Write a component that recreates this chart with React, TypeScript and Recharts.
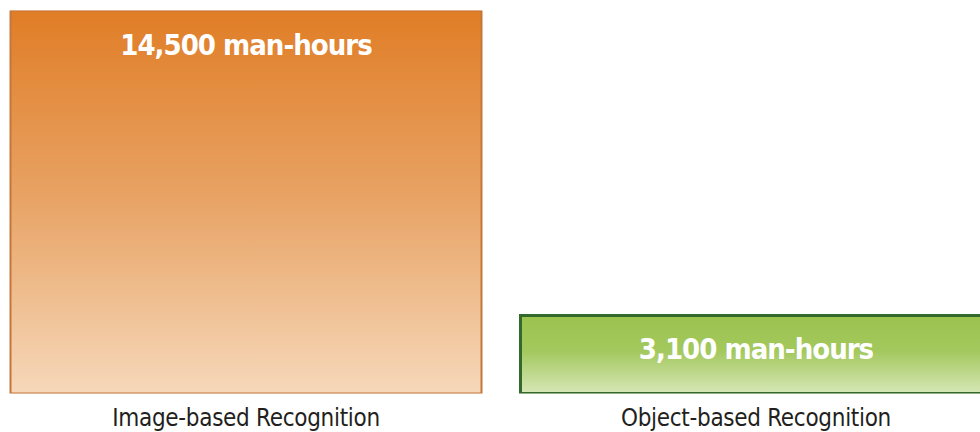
import { Bar, BarChart, Cell, LabelList, XAxis, YAxis } from 'recharts'

const categories = ['Image-based Recognition', 'Object-based Recognition']
const manHours = [14500, 3100]
const valueLabels = ['14,500 man-hours', '3,100 man-hours']

const data = categories.map((name, i) => ({ name, hours: manHours[i], label: valueLabels[i] }))

const fills = ['url(#orangeFill)', 'url(#greenFill)']
const strokes = ['#C5773A', '#336A2B']
const strokeWidths = [2, 3]

const narrow = '"Liberation Sans Narrow", "DejaVu Sans Condensed", Roboto, sans-serif'

function ValueLabel(props: any) {
  const { x, y, width, value } = props
  return (
    <text
      x={x + width / 2}
      y={y + 34}
      textAnchor="middle"
      dominantBaseline="central"
      fill="#FFFFFF"
      fontFamily={narrow}
      fontWeight={700}
      fontSize={29}
      letterSpacing={-1}
    >
      {value}
    </text>
  )
}

export default function App() {
  return (
    <div style={{ position: 'fixed', left: 0, top: 0, width: 980, height: 432, overflow: 'hidden', background: '#fff' }}>
      <div style={{ marginLeft: -9.5 }}>
        <BarChart
          width={1020}
          height={432}
          data={data}
          margin={{ top: 10.5, right: 0, bottom: 0, left: 0 }}
          barCategoryGap={19.5}
        >
          <defs>
            <linearGradient id="orangeFill" x1="0" y1="0" x2="0" y2="1">
              <stop offset="0%" stopColor="#E07D26" />
              <stop offset="50%" stopColor="#E8A466" />
              <stop offset="100%" stopColor="#F6D8BA" />
            </linearGradient>
            <linearGradient id="greenFill" x1="0" y1="0" x2="0" y2="1">
              <stop offset="0%" stopColor="#9BC34F" />
              <stop offset="45%" stopColor="#A3C85D" />
              <stop offset="100%" stopColor="#D6E7B7" />
            </linearGradient>
          </defs>
          <XAxis
            dataKey="name"
            height={38.5}
            axisLine={false}
            tickLine={false}
            tickSize={0}
            tickMargin={15}
            tick={{ fontSize: 24, fill: '#231F20', fontFamily: narrow, letterSpacing: -0.3 }}
            interval={0}
          />
          <YAxis hide domain={[180, 14500]} allowDataOverflow />
          <Bar dataKey="hours" isAnimationActive={false}>
            {data.map((d, i) => (
              <Cell key={d.name} fill={fills[i]} stroke={strokes[i]} strokeWidth={strokeWidths[i]} />
            ))}
            <LabelList dataKey="label" content={ValueLabel} />
          </Bar>
        </BarChart>
      </div>
    </div>
  )
}
